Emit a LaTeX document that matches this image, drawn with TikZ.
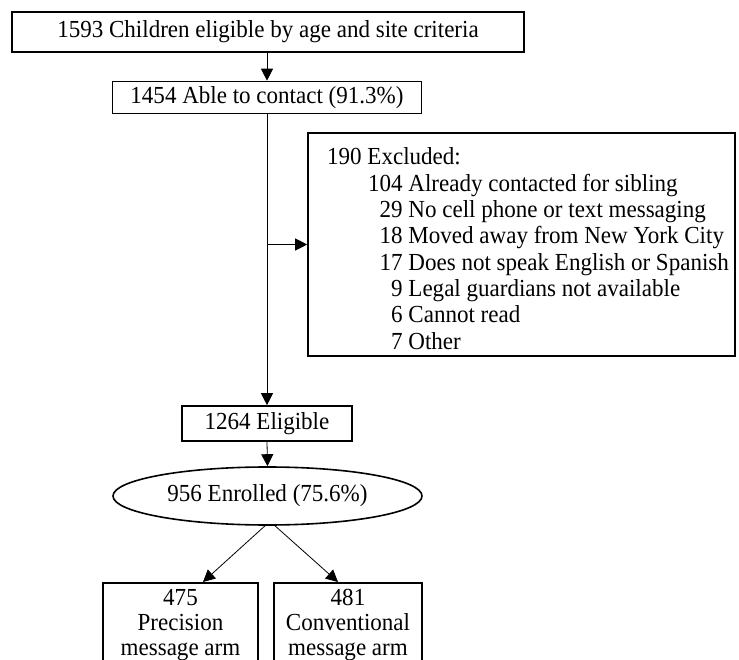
\documentclass[tikz,border=0pt]{standalone}
\usepackage{fontspec}
\setmainfont{Liberation Serif}[FakeStretch=0.94]
\usetikzlibrary{arrows.meta,shapes.geometric}
\begin{document}
\begin{tikzpicture}[x=1pt,y=-1pt,
  box/.style={draw, line width=1.6pt, inner sep=0pt, font=\fontsize{24.5}{26}\selectfont},
  arr/.style={-{Triangle[length=12pt,width=12pt]}, line width=0.8pt},
  txt/.style={inner sep=0pt, font=\fontsize{24.5}{26.3}\selectfont},
  armtxt/.style={inner sep=0pt, font=\fontsize{24.5}{25}\selectfont}]
\useasboundingbox (0,0) rectangle (739,660);
\clip (0,0) rectangle (739,660);
\node[box, minimum width=512pt, minimum height=40pt] (elig) at (268,32) {1593 Children eligible by age and site criteria};
\node[box, minimum width=309pt, minimum height=32pt] (contact) at (267,97.5) {1454 Able to contact (91.3\%)};
\node[box, minimum width=427pt, minimum height=223pt] (excl) at (521.5,244.5) {};
\node[txt, anchor=base west] (excltxt) at (327,165) {\begin{tabular}[t]{@{}l@{}}
190 Excluded:\\
\makebox[75.5pt][r]{104} Already contacted for sibling\\
\makebox[75.5pt][r]{29} No cell phone or text messaging\\
\makebox[75.5pt][r]{18} Moved away from New York City\\
\makebox[75.5pt][r]{17} Does not speak English or Spanish\\
\makebox[75.5pt][r]{9} Legal guardians not available\\
\makebox[75.5pt][r]{6} Cannot read\\
\makebox[75.5pt][r]{7} Other
\end{tabular}};
\node[box, minimum width=170pt, minimum height=35pt] (elig2) at (267,423.5) {1264 Eligible};
\node[draw, ellipse, line width=1.6pt, inner sep=0pt, minimum width=309pt, minimum height=58pt, font=\fontsize{24.5}{26}\selectfont] (enr) at (267.5,496) {956 Enrolled (75.6\%)};
\node[box, minimum width=155pt, minimum height=110pt, anchor=north] (prec) at (180.5,582) {};
\node[box, minimum width=148pt, minimum height=110pt, anchor=north] (conv) at (348,582) {};
\node[armtxt, anchor=base] (prectxt) at (180.5,605) {\begin{tabular}[t]{@{}c@{}}475\\Precision\\message arm\end{tabular}};
\node[armtxt, anchor=base] (convtxt) at (348,605) {\begin{tabular}[t]{@{}c@{}}481\\Conventional\\message arm\end{tabular}};
\draw[arr] (elig.south -| contact.north) -- (contact.north);
\draw[arr] (contact.south) -- (elig2.north);
\coordinate (br) at (contact.south |- excl.west);
\draw[arr] (br) -- (excl.west);
\draw[arr] (elig2.south) -- (enr.north);
\draw[arr] ([xshift=-2.5pt]enr.south) -- ([xshift=22.5pt]prec.north);
\draw[arr] ([xshift=7.5pt]enr.south) -- ([xshift=-10pt]conv.north);
\end{tikzpicture}
\end{document}
